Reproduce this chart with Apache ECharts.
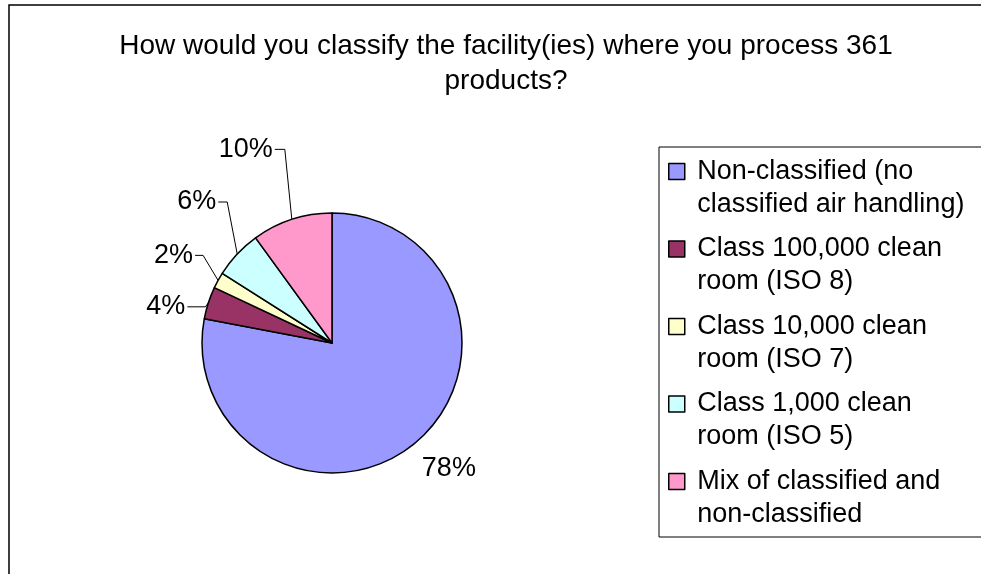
<!DOCTYPE html>
<html>
<head>
<meta charset="utf-8">
<title>Facility classification</title>
<script src="https://cdn.jsdelivr.net/npm/echarts@6/dist/echarts.min.js"></script>
<style>
  html, body { margin: 0; padding: 0; background: #fff; }
  #chart { width: 981px; height: 574px; }
</style>
</head>
<body>
<div id="chart"></div>
<script>
// survey answers, share of respondents (%)
var categories = [
  "Non-classified (no\nclassified air handling)",
  "Class 100,000 clean\nroom (ISO 8)",
  "Class 10,000 clean\nroom (ISO 7)",
  "Class 1,000 clean\nroom (ISO 5)",
  "Mix of classified and\nnon-classified"
];
var shares = [78, 4, 2, 6, 10];
var sliceColors = ["#9999FF", "#993366", "#FFFFCC", "#CCFFFF", "#FF99CC"];

// leader line shape for each label, relative to the slice edge point
var leaders = [
  { dx: 34, dy: 25, run: 0, line: false },
  { dx: -3, dy: 4, run: 18, line: true },
  { dx: -15, dy: -25, run: 8, line: true },
  { dx: -10, dy: -52, run: 9, line: true },
  { dx: -7, dy: -70, run: 10, line: true }
];

var font = "'Liberation Sans', Arial, sans-serif";

var chart = echarts.init(document.getElementById("chart"));

var pieData = categories.map(function (name, i) {
  return { name: name, value: shares[i], itemStyle: { color: sliceColors[i] } };
});

var option = {
  backgroundColor: "#fff",
  animation: false,
  title: {
    text: "How would you classify the facility(ies) where you process 361\nproducts?",
    left: 501,
    top: 24,
    textAlign: "center",
    textStyle: {
      fontFamily: font,
      fontSize: 28,
      fontWeight: "normal",
      color: "#000",
      lineHeight: 35
    }
  },
  graphic: [
    {
      type: "rect",
      shape: { x: 9, y: 5, width: 1000, height: 600 },
      style: { fill: "none", stroke: "#000", lineWidth: 1.5 }
    },
    {
      type: "rect",
      shape: { x: 659, y: 147, width: 400, height: 390 },
      style: { fill: "none", stroke: "#000", lineWidth: 1 }
    }
  ],
  legend: {
    orient: "vertical",
    left: 668,
    top: 122,
    padding: 0,
    itemGap: -21.5,
    itemWidth: 16,
    itemHeight: 16,
    icon: "rect",
    selectedMode: false,
    itemStyle: { borderColor: "#000", borderWidth: 1.5 },
    // blank first line keeps the swatch level with the first text line
    formatter: function (name) {
      return "\n " + name.replace("\n", "\n ");
    },
    textStyle: {
      fontFamily: font,
      fontSize: 27,
      color: "#000",
      lineHeight: 33
    },
    data: categories
  },
  series: [
    {
      type: "pie",
      center: [332, 343],
      radius: 130,
      startAngle: 90,
      clockwise: true,
      avoidLabelOverlap: false,
      itemStyle: { borderColor: "#000", borderWidth: 1.5 },
      label: {
        show: true,
        position: "outside",
        formatter: "{c}%",
        fontFamily: font,
        fontSize: 27,
        color: "#000"
      },
      labelLine: {
        show: true,
        length: 20,
        length2: 10,
        lineStyle: { color: "#000", width: 1 }
      },
      labelLayout: function (params) {
        var pts = params.labelLinePoints;
        if (!pts) return;
        var p0 = pts[0];
        var s = leaders[params.dataIndex];
        var ex = p0[0] + s.dx, ey = p0[1] + s.dy;
        if (!s.line) {
          return { x: ex, y: ey, align: "center", verticalAlign: "middle",
                   labelLinePoints: [p0, p0, p0] };
        }
        var end = ex - s.run;
        return { x: end - 2, y: ey, align: "right", verticalAlign: "middle",
                 labelLinePoints: [p0, [ex, ey], [end, ey]] };
      },
      emphasis: { disabled: true },
      data: pieData
    }
  ]
};

chart.setOption(option);
</script>
</body>
</html>
